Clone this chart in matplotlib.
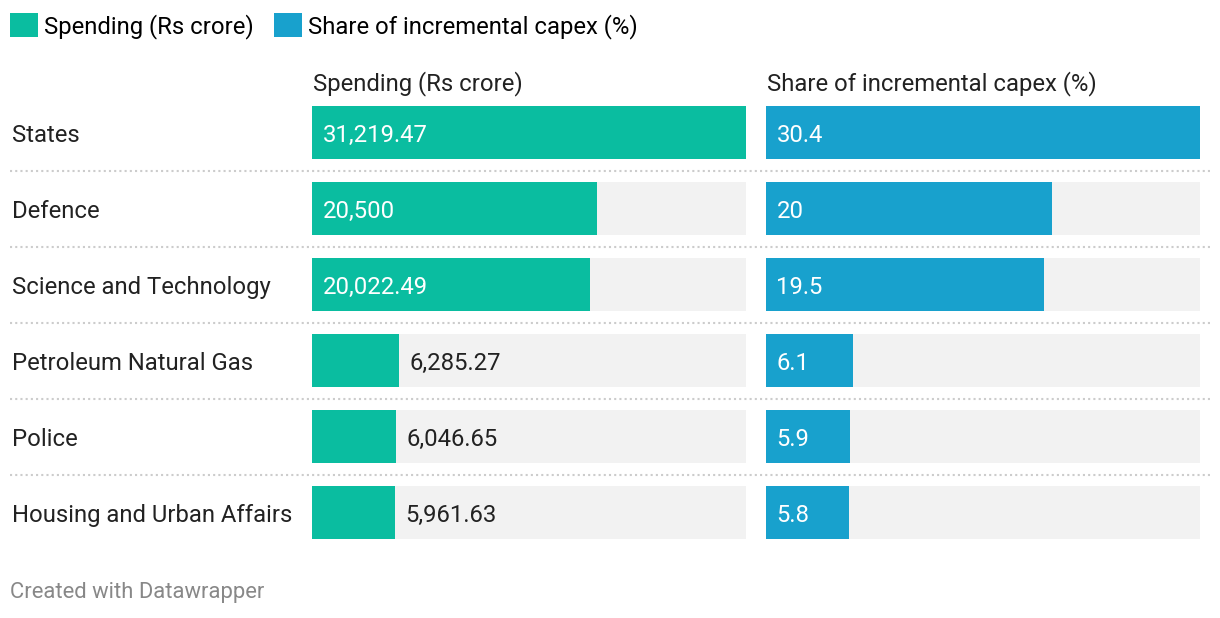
import matplotlib.pyplot as plt
from matplotlib.patches import Patch
import matplotlib.transforms as mtransforms

plt.rcParams['font.family'] = ['Roboto', 'DejaVu Sans']

categories = ['States', 'Defence', 'Science and Technology', 'Petroleum Natural Gas',
              'Police', 'Housing and Urban Affairs']
spending = [31219.47, 20500, 20022.49, 6285.27, 6046.65, 5961.63]
share = [30.4, 20, 19.5, 6.1, 5.9, 5.8]

col_titles = ['Spending (Rs crore)', 'Share of incremental capex (%)']
colors = ['#0abda0', '#18a1cd']

W, H = 1220, 618
FS = 17.2
fig = plt.figure(figsize=(W / 100, H / 100), dpi=100)
fig.patch.set_facecolor('white')

n = len(categories)
pitch = 76
top = 94.5
bottom = top + n * pitch
ax_l = fig.add_axes([312 / W, 1 - bottom / H, 434 / W, (bottom - top) / H])
ax_r = fig.add_axes([766 / W, 1 - bottom / H, 434 / W, (bottom - top) / H])

# baseline shift so that cap height is centred on the row
cap_shift = -(FS * 1.389 * 0.711 / 2 + 1) / 100


def fmt_spend(v):
    if v == int(v):
        return f'{int(v):,}'
    return f'{v:,.2f}'


def fmt_share(v):
    return f'{v:g}'


fig.canvas.draw()
renderer = fig.canvas.get_renderer()

for ax, vals, color, fmt, title in [(ax_l, spending, colors[0], fmt_spend, col_titles[0]),
                                    (ax_r, share, colors[1], fmt_share, col_titles[1])]:
    vmax = max(vals)
    ypos = list(range(n))
    ax.barh(ypos, [vmax] * n, height=53 / pitch, color='#f2f2f2', zorder=1)
    ax.barh(ypos, vals, height=53 / pitch, color=color, zorder=2)
    ax.set_xlim(0, vmax)
    ax.set_ylim(n - 0.5, -0.5)
    ax.axis('off')
    px_per_unit = 434 / vmax
    off = ax.transData + mtransforms.ScaledTranslation(10.5 / 100, cap_shift, fig.dpi_scale_trans)
    for i, v in enumerate(vals):
        label = fmt(v)
        t = ax.text(0, i, label, fontsize=FS, va='baseline', ha='left', color='white', zorder=3,
                    transform=off)
        tw = t.get_window_extent(renderer).width
        if tw + 16 > v * px_per_unit:
            t.remove()
            ax.text(v, i, label, fontsize=FS, va='baseline', ha='left', color='#222222', zorder=3,
                    transform=off)
    ax.text(0.002, 1 + 4.5 / (bottom - top), title, transform=ax.transAxes, fontsize=FS,
            color='#222222', ha='left', va='baseline')

# category labels
trans = mtransforms.blended_transform_factory(fig.transFigure, ax_l.transData) + \
    mtransforms.ScaledTranslation(0, cap_shift, fig.dpi_scale_trans)
for i, c in enumerate(categories):
    ax_l.text(12 / W, i, c, transform=trans, fontsize=FS, color='#222222', ha='left', va='baseline')

# dotted separators
for i in range(n - 1):
    ax_l.axhline(i + 0.5, xmin=(10 - 312) / 434, xmax=(1210 - 312) / 434, color='#cccccc',
                 linestyle=(0, (1, 1.5)), linewidth=1.5, clip_on=False, zorder=0)

handles = [Patch(facecolor=colors[0], label=col_titles[0]),
           Patch(facecolor=colors[1], label=col_titles[1])]
fig.legend(handles=handles, loc='upper left', bbox_to_anchor=(10 / W, 1 - 13 / H), ncol=2,
           frameon=False, fontsize=FS, handlelength=1.17, handleheight=1.17, handletextpad=0.25,
           columnspacing=0.85, borderaxespad=0, borderpad=0)

fig.text(10 / W, 1 - 598 / H, 'Created with Datawrapper', fontsize=15.8, color='#888888',
         ha='left', va='baseline')

fig.savefig('out.png', dpi=100, facecolor='white')
